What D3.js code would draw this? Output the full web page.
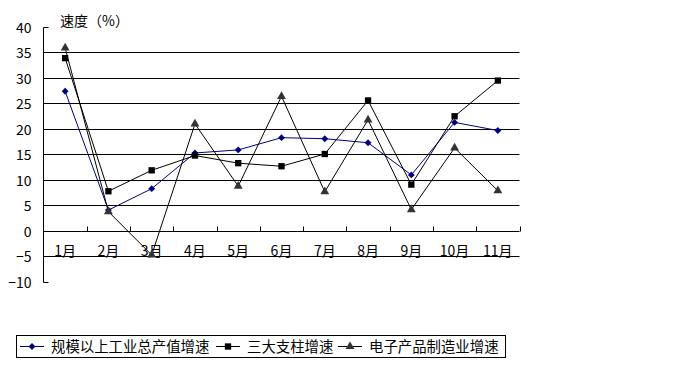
<!DOCTYPE html>
<html>
<head>
<meta charset="utf-8">
<script src="https://cdn.jsdelivr.net/npm/d3@7"></script>
<style>
  body { margin: 0; background: #fff; }
  svg text { font-family: "Noto Sans CJK SC", "Noto Sans", sans-serif; fill: #000; }
</style>
</head>
<body>
<div id="chart"></div>
<script>
var width = 694,
    height = 369;

// data
var months = ['1月', '2月', '3月', '4月', '5月', '6月', '7月', '8月', '9月', '10月', '11月'];
var yTicks = [40, 35, 30, 25, 20, 15, 10, 5, 0, -5, -10];
var seriesNames = ['规模以上工业总产值增速', '三大支柱增速', '电子产品制造业增速'];
var industryTotal = [27.3, 4.0, 8.2, 15.2, 15.8, 18.2, 18.0, 17.2, 10.9, 21.2, 19.6];
var pillarThree = [33.8, 7.7, 11.8, 14.7, 13.2, 12.6, 15.0, 25.5, 9.0, 22.4, 29.4];
var electronics = [35.8, 3.7, -4.8, 20.9, 8.7, 26.3, 7.6, 21.7, 4.1, 16.2, 7.8];

var plotL = 43.5, plotR = 519.5, plotT = 26.5, plotB = 281.5;

var svg = d3.select('#chart').append('svg')
    .attr('width', width)
    .attr('height', height);

var x = d3.scaleBand()
    .domain(months)
    .range([plotL, plotR]);

var y = d3.scaleLinear()
    .domain([-10, 40])
    .range([plotB, plotT]);

function py(v) { return Math.round(y(v)) + 0.5; }

// gridlines (not at the top and bottom ends)
svg.append('g').selectAll('line')
    .data(yTicks.filter(function(d) { return d < 40 && d > -10 && d != 0; }))
    .enter().append('line')
    .attr('x1', plotL).attr('x2', plotR)
    .attr('y1', py).attr('y2', py)
    .attr('stroke', '#000').attr('stroke-width', 1);

// y axis
var yAxis = svg.append('g')
    .attr('transform', 'translate(' + plotL + ',0)')
    .call(d3.axisLeft(y).tickValues(yTicks).tickSize(0).tickPadding(12));
yAxis.select('.domain').remove();
yAxis.selectAll('text').attr('font-size', 14).attr('font-family', '"Noto Sans CJK SC", sans-serif')
    .attr('y', function(d) { return py(d) - y(d); }).attr('dy', '0.35em');
svg.append('line')
    .attr('x1', plotL).attr('x2', plotL)
    .attr('y1', py(40)).attr('y2', py(-10))
    .attr('stroke', '#000');
svg.selectAll('.endtick')
    .data([40, -10])
    .enter().append('line')
    .attr('class', 'endtick')
    .attr('x1', plotL).attr('x2', plotL + 5)
    .attr('y1', py).attr('y2', py)
    .attr('stroke', '#000');

// x axis at zero
var zeroY = py(0);
svg.append('line')
    .attr('x1', plotL).attr('x2', plotR)
    .attr('y1', zeroY).attr('y2', zeroY)
    .attr('stroke', '#000');
svg.selectAll('.xtick')
    .data(months.slice(1).concat(['end']))
    .enter().append('line')
    .attr('class', 'xtick')
    .attr('x1', function(d, i) { return Math.round(plotL + (i + 1) * x.bandwidth()) + 0.5; })
    .attr('x2', function(d, i) { return Math.round(plotL + (i + 1) * x.bandwidth()) + 0.5; })
    .attr('y1', zeroY - 5).attr('y2', zeroY)
    .attr('stroke', '#000');

svg.selectAll('.xlabel')
    .data(months)
    .enter().append('text')
    .attr('class', 'xlabel')
    .attr('x', function(d) { return x(d) + x.bandwidth() / 2; })
    .attr('y', 251)
    .attr('dy', '0.35em')
    .attr('text-anchor', 'middle')
    .attr('font-size', 14)
    .text(function(d) { return d; });

// axis title
svg.append('text')
    .attr('x', 60)
    .attr('y', 21)
    .attr('dy', '0.35em')
    .attr('font-size', 14)
    .text('速度（%）');

function cx(d, i) { return x(months[i]) + x.bandwidth() / 2; }

var line = d3.line()
    .x(function(d, i) { return cx(d, i); })
    .y(function(d) { return y(d); });

var series = [
  { values: industryTotal, stroke: '#000080', fill: '#000080', marker: d3.symbolDiamond2, size: 30 },
  { values: pillarThree, stroke: '#000', fill: '#000', marker: d3.symbolSquare, size: 40 },
  { values: electronics, stroke: '#000', fill: '#333', marker: d3.symbolTriangle, size: 34 }
];

series.forEach(function(s) {
  svg.append('path')
      .datum(s.values)
      .attr('d', line)
      .attr('fill', 'none')
      .attr('stroke', s.stroke)
      .attr('stroke-width', 1);
  svg.append('g').selectAll('path')
      .data(s.values)
      .enter().append('path')
      .attr('transform', function(d, i) { return 'translate(' + cx(d, i) + ',' + y(d) + ')'; })
      .attr('d', d3.symbol().type(s.marker).size(s.size))
      .attr('fill', s.fill);
});

// legend
var legend = svg.append('g');
legend.append('rect')
    .attr('x', 16.5).attr('y', 335.5)
    .attr('width', 489).attr('height', 22)
    .attr('fill', 'none').attr('stroke', '#000');

var legendX = [20, 216, 338];
series.forEach(function(s, i) {
  var g = legend.append('g').attr('transform', 'translate(' + legendX[i] + ',346.5)');
  g.append('line')
      .attr('x1', 0).attr('x2', 24)
      .attr('stroke', s.stroke);
  g.append('path')
      .attr('transform', 'translate(12,0)')
      .attr('d', d3.symbol().type(s.marker).size(s.size))
      .attr('fill', s.fill);
  g.append('text')
      .attr('x', 31)
      .attr('dy', '0.35em')
      .attr('font-size', 14.4)
      .text(seriesNames[i]);
});
</script>
</body>
</html>
